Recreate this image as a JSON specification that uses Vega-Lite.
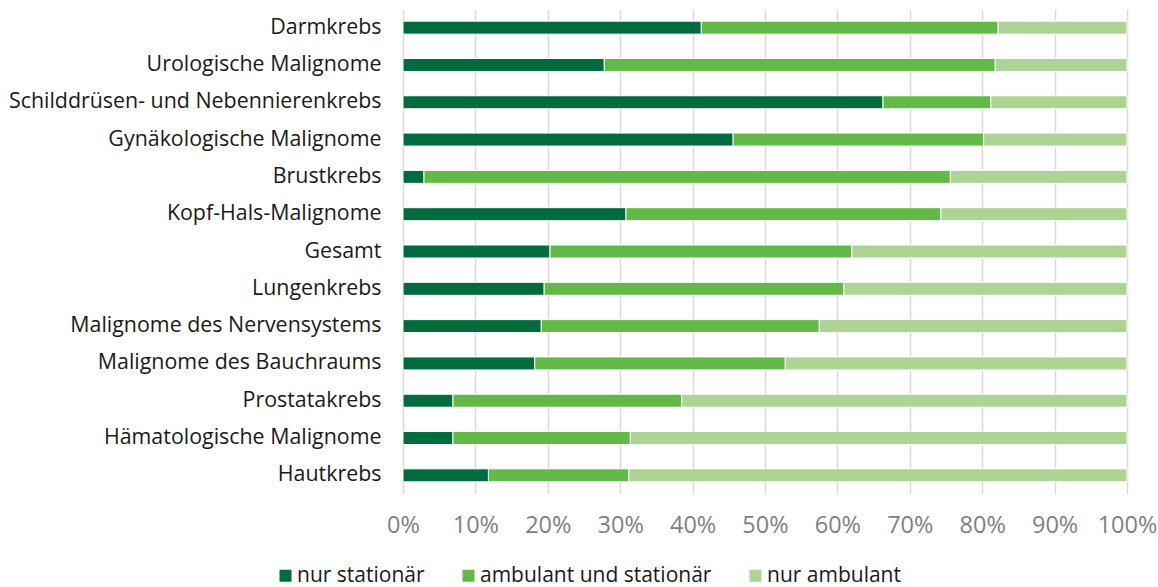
{
  "$schema": "https://vega.github.io/schema/vega-lite/v6.json",
  "width": 724,
  "height": 485,
  "autosize": {"type": "none"},
  "padding": {"left": 403, "top": 9, "right": 31, "bottom": 93},
  "background": "white",
  "config": {
    "view": {"stroke": null},
    "font": "Open Sans"
  },
  "data": {
    "values": [
      {"cat": "Darmkrebs", "typ": "nur stationär", "k": 1, "wert": 41.2},
      {"cat": "Darmkrebs", "typ": "ambulant und stationär", "k": 2, "wert": 41.0},
      {"cat": "Darmkrebs", "typ": "nur ambulant", "k": 3, "wert": 17.8},
      {"cat": "Urologische Malignome", "typ": "nur stationär", "k": 1, "wert": 27.8},
      {"cat": "Urologische Malignome", "typ": "ambulant und stationär", "k": 2, "wert": 54.0},
      {"cat": "Urologische Malignome", "typ": "nur ambulant", "k": 3, "wert": 18.2},
      {"cat": "Schilddrüsen- und Nebennierenkrebs", "typ": "nur stationär", "k": 1, "wert": 66.3},
      {"cat": "Schilddrüsen- und Nebennierenkrebs", "typ": "ambulant und stationär", "k": 2, "wert": 14.9},
      {"cat": "Schilddrüsen- und Nebennierenkrebs", "typ": "nur ambulant", "k": 3, "wert": 18.8},
      {"cat": "Gynäkologische Malignome", "typ": "nur stationär", "k": 1, "wert": 45.6},
      {"cat": "Gynäkologische Malignome", "typ": "ambulant und stationär", "k": 2, "wert": 34.6},
      {"cat": "Gynäkologische Malignome", "typ": "nur ambulant", "k": 3, "wert": 19.8},
      {"cat": "Brustkrebs", "typ": "nur stationär", "k": 1, "wert": 2.9},
      {"cat": "Brustkrebs", "typ": "ambulant und stationär", "k": 2, "wert": 72.7},
      {"cat": "Brustkrebs", "typ": "nur ambulant", "k": 3, "wert": 24.4},
      {"cat": "Kopf-Hals-Malignome", "typ": "nur stationär", "k": 1, "wert": 30.8},
      {"cat": "Kopf-Hals-Malignome", "typ": "ambulant und stationär", "k": 2, "wert": 43.5},
      {"cat": "Kopf-Hals-Malignome", "typ": "nur ambulant", "k": 3, "wert": 25.7},
      {"cat": "Gesamt", "typ": "nur stationär", "k": 1, "wert": 20.3},
      {"cat": "Gesamt", "typ": "ambulant und stationär", "k": 2, "wert": 41.7},
      {"cat": "Gesamt", "typ": "nur ambulant", "k": 3, "wert": 38.0},
      {"cat": "Lungenkrebs", "typ": "nur stationär", "k": 1, "wert": 19.5},
      {"cat": "Lungenkrebs", "typ": "ambulant und stationär", "k": 2, "wert": 41.4},
      {"cat": "Lungenkrebs", "typ": "nur ambulant", "k": 3, "wert": 39.1},
      {"cat": "Malignome des Nervensystems", "typ": "nur stationär", "k": 1, "wert": 19.1},
      {"cat": "Malignome des Nervensystems", "typ": "ambulant und stationär", "k": 2, "wert": 38.4},
      {"cat": "Malignome des Nervensystems", "typ": "nur ambulant", "k": 3, "wert": 42.5},
      {"cat": "Malignome des Bauchraums", "typ": "nur stationär", "k": 1, "wert": 18.2},
      {"cat": "Malignome des Bauchraums", "typ": "ambulant und stationär", "k": 2, "wert": 34.6},
      {"cat": "Malignome des Bauchraums", "typ": "nur ambulant", "k": 3, "wert": 47.2},
      {"cat": "Prostatakrebs", "typ": "nur stationär", "k": 1, "wert": 6.9},
      {"cat": "Prostatakrebs", "typ": "ambulant und stationär", "k": 2, "wert": 31.6},
      {"cat": "Prostatakrebs", "typ": "nur ambulant", "k": 3, "wert": 61.5},
      {"cat": "Hämatologische Malignome", "typ": "nur stationär", "k": 1, "wert": 6.9},
      {"cat": "Hämatologische Malignome", "typ": "ambulant und stationär", "k": 2, "wert": 24.5},
      {"cat": "Hämatologische Malignome", "typ": "nur ambulant", "k": 3, "wert": 68.6},
      {"cat": "Hautkrebs", "typ": "nur stationär", "k": 1, "wert": 11.8},
      {"cat": "Hautkrebs", "typ": "ambulant und stationär", "k": 2, "wert": 19.4},
      {"cat": "Hautkrebs", "typ": "nur ambulant", "k": 3, "wert": 68.8}
    ]
  },
  "mark": {"type": "bar", "size": 13, "stroke": "white", "strokeWidth": 1},
  "encoding": {
    "y": {
      "field": "cat",
      "type": "nominal",
      "sort": null,
      "title": null,
      "axis": {
        "domain": false,
        "ticks": false,
        "grid": false,
        "labelFontSize": 21.4,
        "labelColor": "#1a1a1a",
        "labelPadding": 22,
        "labelLimit": 500
      }
    },
    "x": {
      "field": "wert",
      "type": "quantitative",
      "stack": "normalize",
      "title": null,
      "scale": {"domain": [0, 1], "nice": false},
      "axis": {
        "format": ".0%",
        "values": [0, 0.1, 0.2, 0.3, 0.4, 0.5, 0.6, 0.7, 0.8, 0.9, 1],
        "domain": false,
        "ticks": false,
        "grid": true,
        "gridColor": "#d9d9d9",
        "gridWidth": 1.5,
        "labelFontSize": 23.5,
        "labelColor": "#7f7f7f",
        "labelPadding": 19,
        "labelFlush": false
      }
    },
    "color": {
      "field": "typ",
      "type": "nominal",
      "sort": ["nur stationär", "ambulant und stationär", "nur ambulant"],
      "scale": {
        "domain": ["nur stationär", "ambulant und stationär", "nur ambulant"],
        "range": ["#006b3d", "#63b946", "#aed495"]
      },
      "legend": {
        "title": null,
        "orient": "none",
        "direction": "horizontal",
        "legendX": -128,
        "legendY": 556,
        "symbolType": "square",
        "symbolSize": 144,
        "symbolStrokeWidth": 0,
        "labelFontSize": 21,
        "labelColor": "#1a1a1a",
        "labelOffset": 1,
        "columnPadding": 33,
        "labelLimit": 400
      }
    },
    "order": {"field": "k", "type": "quantitative"}
  }
}
